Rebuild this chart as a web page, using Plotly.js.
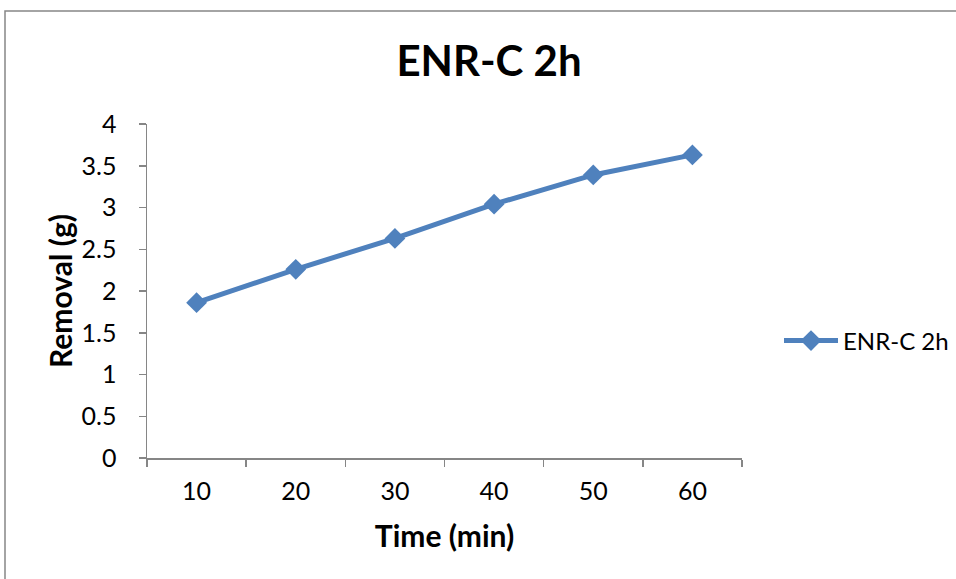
<!DOCTYPE html>
<html>
<head>
<meta charset="utf-8">
<script src="https://cdn.plot.ly/plotly-3.0.1.min.js"></script>
<style>html,body{margin:0;padding:0;background:#fff;}#chart{width:956px;height:579px;}</style>
</head>
<body>
<div id="chart"></div>
<script>
const categories = ['10', '20', '30', '40', '50', '60'];
const removal = [1.86, 2.26, 2.63, 3.04, 3.39, 3.63];
const seriesName = 'ENR-C 2h';
const yTicks = [0, 0.5, 1, 1.5, 2, 2.5, 3, 3.5, 4];

const W = 956, H = 579;
const m = {l: 147, r: 214, t: 124, b: 121, autoexpand: false};
const pw = W - m.l - m.r, ph = H - m.t - m.b;
const px = v => (v - m.l) / pw;
const py = v => (H - m.b - v) / ph;

const font = 'Lato, "Open Sans", sans-serif';

const trace = {
  x: categories,
  y: removal,
  type: 'scatter',
  mode: 'lines+markers',
  name: seriesName,
  line: {color: '#4F81BD', width: 5},
  marker: {symbol: 'diamond', size: 16, color: '#4F81BD'}
};

const layout = {
  width: W, height: H,
  margin: m,
  paper_bgcolor: '#fff', plot_bgcolor: '#fff',
  font: {family: font, color: '#000'},
  title: {text: '<b>ENR-C 2h</b>', font: {family: font, size: 42, color: '#000'},
          x: 489 / W, xanchor: 'center', y: 1 - 61 / H, yanchor: 'middle', yref: 'container'},
  xaxis: {
    type: 'category', range: [-0.5, 5.5], tickson: 'boundaries',
    showline: true, linecolor: '#868686', linewidth: 1.5,
    ticks: 'outside', ticklen: 7, tickcolor: '#868686', tickwidth: 1.5,
    showgrid: false, zeroline: false,
    tickfont: {size: 25, family: font}, ticklabelstandoff: 10,
    title: {text: '<b>Time (min)</b>', font: {size: 30, family: font}, standoff: 22}
  },
  yaxis: {
    range: [0, 4], tickvals: yTicks,
    showline: true, linecolor: '#868686', linewidth: 1.5,
    ticks: 'outside', ticklen: 7, tickcolor: '#868686', tickwidth: 1.5,
    showgrid: false, zeroline: false,
    tickfont: {size: 25, family: font}, ticklabelstandoff: 17,
    title: {text: '<b>Removal (g)</b>', font: {size: 30, family: font}, standoff: 0}
  },
  showlegend: true,
  legend: {x: px(779), y: py(341), xanchor: 'left', yanchor: 'middle',
           font: {size: 24, family: font}, itemwidth: 54, bgcolor: 'rgba(0,0,0,0)'},
  shapes: [{type: 'rect', xref: 'paper', yref: 'paper',
            x0: px(5), x1: px(W + 20), y0: py(H + 20), y1: py(11),
            line: {color: '#868686', width: 1.5}, fillcolor: 'rgba(0,0,0,0)', layer: 'below'}]
};

Plotly.newPlot('chart', [trace], layout, {displayModeBar: false, staticPlot: true}).then(gd => {
  // widen the legend's line sample to resemble the reference legend key
  gd.querySelectorAll('.legend .traces').forEach(tr => {
    const ln = tr.querySelector('.legendlines path');
    if (ln) ln.setAttribute('d', 'M5,0h54');
    const pt = tr.querySelector('.legendpoints path');
    if (pt) pt.setAttribute('transform', 'translate(32,0)');
  });
});
</script>
</body>
</html>
